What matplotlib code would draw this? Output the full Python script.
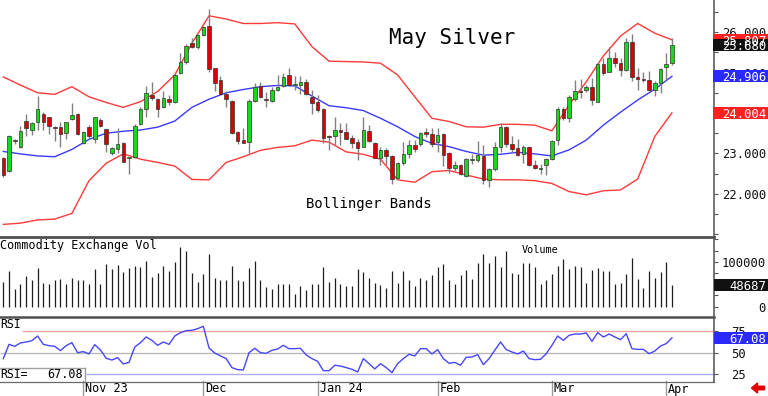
import matplotlib
matplotlib.use('Agg')
import matplotlib.pyplot as plt
import numpy as np
import pandas as pd
from matplotlib.patches import Rectangle, FancyArrow
from matplotlib.lines import Line2D

plt.rcParams['font.family'] = ['DejaVu Sans Mono', 'DejaVu Sans']

# ---------------- data ----------------
opens = [22.88, 22.58, 23.34, 23.17, 23.81, 23.58, 23.79, 23.98, 23.89, 23.66,
         23.65, 23.50, 23.84, 23.98, 23.27, 23.66, 23.37, 23.83, 23.60, 23.02,
         23.11, 23.25, 22.88, 22.92, 23.72, 24.09, 24.44, 24.35, 24.14, 24.35,
         24.26, 24.98, 25.25, 25.74, 25.64, 25.93, 26.15, 25.10, 24.81, 24.46,
         24.30, 23.52, 23.33, 23.28, 24.30, 24.67, 24.35, 24.30, 24.57, 24.67,
         24.94, 24.68, 24.69, 24.77, 24.40, 24.26, 24.09, 23.41, 23.42, 23.58,
         23.52, 23.39, 23.29, 23.17, 23.56, 23.27, 22.90, 23.09, 22.94, 22.39,
         22.77, 22.98, 23.21, 23.23, 23.53, 23.48, 23.29, 23.47, 23.00, 22.63,
         22.71, 22.45, 22.85, 22.84, 22.94, 22.35, 22.61, 23.15, 23.66, 23.23,
         23.13, 22.98, 23.17, 22.72, 22.62, 22.71, 22.86, 23.33, 24.11, 23.87,
         24.34, 24.55, 24.56, 24.65, 24.28, 25.21, 25.02, 25.37, 25.24, 25.07,
         25.76, 24.90, 24.83, 24.81, 24.58, 24.75, 25.13, 25.23]
highs = [22.92, 23.46, 23.37, 23.68, 23.98, 23.79, 24.42, 24.03, 23.91, 23.68,
         23.77, 23.79, 24.25, 23.99, 23.56, 23.70, 23.91, 23.87, 23.61, 23.17,
         23.62, 23.29, 22.92, 23.72, 24.14, 24.67, 24.77, 24.38, 24.54, 24.44,
         24.98, 25.49, 25.70, 25.84, 25.94, 26.15, 26.56, 25.12, 24.91, 24.55,
         24.32, 23.56, 23.62, 24.34, 24.73, 24.77, 24.52, 24.65, 24.94, 24.98,
         25.10, 24.91, 24.91, 24.83, 24.57, 24.44, 24.13, 23.45, 23.89, 23.75,
         23.75, 23.46, 23.35, 23.91, 23.70, 23.29, 23.17, 23.13, 22.96, 22.80,
         23.29, 23.33, 23.33, 23.54, 23.64, 23.62, 23.64, 23.50, 23.03, 22.82,
         22.74, 22.88, 22.98, 23.32, 23.21, 22.63, 23.29, 23.75, 23.68, 23.42,
         23.37, 23.21, 23.19, 22.84, 22.74, 22.88, 23.33, 24.14, 24.16, 24.44,
         24.81, 24.83, 24.69, 24.86, 25.24, 25.35, 25.64, 25.51, 25.35, 25.84,
         25.95, 25.10, 25.02, 25.04, 24.79, 25.10, 25.49, 25.84]
lows = [22.43, 22.55, 23.23, 23.13, 23.42, 23.46, 23.58, 23.58, 23.48, 23.32,
        23.17, 23.37, 23.83, 23.46, 23.23, 23.37, 23.25, 23.66, 23.04, 22.96,
        23.00, 22.78, 22.49, 22.90, 23.70, 23.91, 24.32, 23.91, 24.12, 24.20,
        24.24, 24.96, 25.20, 25.61, 25.57, 25.90, 25.02, 24.55, 24.44, 24.16,
        23.48, 23.23, 23.25, 23.00, 24.28, 24.36, 24.16, 24.28, 24.55, 24.65,
        24.67, 24.57, 24.47, 24.44, 23.98, 24.03, 23.27, 23.09, 23.21, 23.21,
        23.35, 23.13, 22.84, 23.15, 23.29, 22.88, 22.72, 22.72, 22.25, 22.36,
        22.72, 22.88, 23.04, 23.19, 23.40, 23.17, 23.04, 22.70, 22.53, 22.58,
        22.47, 22.43, 22.74, 22.80, 22.25, 22.17, 22.58, 23.04, 23.17, 23.04,
        22.94, 22.77, 22.68, 22.61, 22.49, 22.47, 22.84, 23.21, 23.83, 23.77,
        24.30, 24.36, 24.53, 24.20, 24.26, 24.94, 25.00, 25.14, 24.91, 25.04,
        24.80, 24.57, 24.77, 24.55, 24.42, 24.50, 24.81, 25.19]
closes = [22.47, 23.44, 23.32, 23.56, 23.62, 23.75, 24.11, 23.77, 23.68, 23.64,
          23.47, 23.77, 23.94, 23.47, 23.54, 23.42, 23.89, 23.68, 23.23, 23.13,
          23.23, 22.80, 22.88, 23.68, 24.09, 24.49, 24.38, 24.09, 24.38, 24.26,
          24.95, 25.25, 25.65, 25.64, 25.93, 26.12, 25.08, 24.73, 24.47, 24.34,
          23.51, 23.32, 23.27, 24.30, 24.65, 24.39, 24.32, 24.57, 24.65, 24.88,
          24.69, 24.69, 24.77, 24.47, 24.24, 24.07, 23.39, 23.40, 23.58, 23.53,
          23.37, 23.25, 23.13, 23.58, 23.31, 22.90, 23.09, 22.94, 22.36, 22.77,
          22.98, 23.21, 23.11, 23.50, 23.48, 23.23, 23.46, 22.96, 22.63, 22.71,
          22.49, 22.86, 22.86, 22.96, 22.35, 22.61, 23.15, 23.66, 23.23, 23.11,
          22.96, 23.17, 22.72, 22.63, 22.64, 22.86, 23.32, 24.09, 23.87, 24.40,
          24.55, 24.51, 24.65, 24.32, 25.21, 25.00, 25.37, 25.23, 25.07, 25.76,
          24.90, 24.83, 24.81, 24.58, 24.75, 25.08, 25.21, 25.68]

# Bollinger bands read every 3rd session (sessions 0, 3, 6, ... 117)
band_step = 3
upper_band = [24.89, 24.69, 24.50, 24.46, 24.65, 24.40, 24.26, 24.14, 24.28, 24.53,
              24.94, 25.72, 26.40, 26.32, 26.21, 26.21, 26.23, 26.20, 25.64, 25.28,
              25.27, 25.26, 25.23, 24.94, 24.40, 23.87, 23.79, 23.66, 23.65, 23.72,
              23.72, 23.70, 23.56, 24.20, 24.77, 25.41, 25.90, 26.21, 25.97, 25.807]
middle_band = [23.05, 22.99, 22.94, 22.92, 23.10, 23.35, 23.50, 23.55, 23.58, 23.65,
               23.80, 24.14, 24.34, 24.50, 24.58, 24.65, 24.68, 24.67, 24.42, 24.18,
               24.13, 24.06, 23.87, 23.66, 23.42, 23.25, 23.17, 23.05, 22.96, 22.98,
               23.03, 22.99, 22.94, 23.09, 23.33, 23.70, 24.02, 24.32, 24.59, 24.906]
lower_band = [21.25, 21.28, 21.36, 21.38, 21.52, 22.33, 22.76, 22.99, 22.86, 22.78,
              22.69, 22.36, 22.35, 22.78, 22.92, 23.08, 23.15, 23.19, 23.33, 23.28,
              23.04, 22.98, 22.86, 22.35, 22.29, 22.55, 22.58, 22.47, 22.37, 22.35,
              22.35, 22.33, 22.26, 22.06, 21.98, 22.08, 22.10, 22.37, 23.42, 24.004]

volume = [55400, 79200, 38300, 51000, 68100, 59100, 86700, 53200, 51000, 59100,
          62100, 49500, 64400, 58400, 59900, 49500, 83000, 49500, 94900, 83000,
          93400, 77700, 85900, 90400, 87400, 101600, 66600, 75500, 89700, 79200,
          99300, 133500, 124600, 74800, 53900, 72500, 116400, 62900, 59900, 59900,
          89700, 58400, 56900, 85200, 101600, 59900, 43500, 39100, 49500, 49500,
          49500, 27900, 46500, 36800, 49500, 50200, 88900, 55400, 63600, 49500,
          45800, 45800, 83700, 76300, 63600, 53200, 48000, 42000, 79200, 51700,
          80000, 59900, 46500, 62900, 58400, 70300, 88900, 94900, 59900, 51000,
          69600, 81500, 61400, 97100, 116400, 97100, 112000, 88900, 123900, 75500,
          72500, 96300, 97100, 87400, 51000, 58400, 72500, 89700, 105300, 83700,
          90400, 87400, 53200, 80700, 85200, 78500, 78500, 51000, 53200, 71800,
          108300, 61400, 42000, 79200, 62900, 77000, 100100, 48687]

rsi = [43.1, 59.6, 57.3, 61.2, 62.3, 63.8, 69.2, 59.6, 58.1, 57.3,
       52.3, 58.1, 61.5, 50.0, 51.2, 48.5, 59.2, 53.1, 43.5, 41.5,
       44.2, 36.9, 38.8, 56.5, 61.5, 68.1, 64.2, 58.5, 62.3, 59.6,
       69.2, 73.1, 75.4, 75.8, 77.7, 80.4, 55.4, 49.6, 46.2, 43.1,
       32.7, 30.4, 30.0, 50.0, 55.0, 50.0, 49.2, 52.7, 54.2, 58.5,
       54.6, 54.6, 55.0, 47.3, 43.1, 40.0, 29.2, 29.2, 35.4, 34.6,
       32.7, 30.8, 27.7, 43.1, 37.3, 31.2, 37.3, 32.7, 26.9, 37.3,
       43.1, 48.1, 46.2, 54.6, 54.6, 48.5, 53.5, 43.1, 37.7, 38.8,
       35.4, 44.6, 45.0, 47.7, 36.2, 43.1, 52.7, 62.3, 53.5, 50.8,
       48.5, 51.9, 43.1, 41.9, 42.3, 48.8, 58.5, 69.2, 64.2, 70.0,
       71.5, 71.5, 72.7, 63.1, 73.1, 68.1, 71.5, 68.1, 65.0, 71.9,
       54.6, 53.8, 53.8, 48.8, 51.9, 57.7, 60.4, 67.08]

start_date = '2023-10-12'
holidays = ['2023-11-23', '2023-12-25', '2024-01-01', '2024-01-15',
            '2024-02-19', '2024-03-29']
month_labels = ['Nov 23', 'Dec', 'Jan 24', 'Feb', 'Mar', 'Apr']

price_ticks = [26, 25, 24, 23, 22]
volume_ticks = [100000, 0]
rsi_levels = [75, 50, 25]

title = 'May Silver'
band_title = 'Bollinger Bands'
vol_title = 'Commodity Exchange Vol'
vol_label = 'Volume'

# ---------------- layout ----------------
W, H = 768, 396
fig = plt.figure(figsize=(W / 100, H / 100), dpi=100)
fig.patch.set_facecolor('white')
RIGHT = 714
SP = 5.715        # px per session
X0 = 3.3          # px of first session

n = len(closes)
x = np.arange(n)
dates = pd.bdate_range(start_date, periods=n, freq='C', holidays=holidays)
month_idx = [i for i in range(1, n) if dates[i].month != dates[i - 1].month]


def add_ax(top, bottom):
    ax = fig.add_axes([0, 1 - bottom / H, RIGHT / W, (bottom - top) / H])
    ax.set_xlim(-X0 / SP, (RIGHT - X0) / SP)
    for s in ax.spines.values():
        s.set_visible(False)
    ax.set_xticks([])
    ax.tick_params(axis='y', which='both', left=False, right=True,
                   labelleft=False, labelright=False, length=3,
                   color='#555555', direction='out', width=0.8)
    ax.patch.set_alpha(0)
    return ax


def px_to_data_x(px):
    return (px - X0) / SP


# price panel
axp = add_ax(0, 236)
axp.set_ylim(26 - (236 - 32) / 40.5, 26 + 32 / 40.5)
axp.set_yticks(np.arange(21, 27, 0.5))

bx = x[::band_step]
axp.plot(bx, upper_band, color='#ff3a3a', lw=1.0, zorder=2)
axp.plot(bx, lower_band, color='#ff3a3a', lw=1.0, zorder=2)
axp.plot(bx, middle_band, color='#3a3aff', lw=1.0, zorder=2)

o = np.array(opens); c = np.array(closes)
axp.vlines(x, lows, highs, color='#808080', lw=1.0, zorder=3)
up = c >= o
body_h = np.maximum(np.abs(c - o), 0.025)
body_b = np.minimum(o, c)
axp.bar(x[up], body_h[up], bottom=body_b[up], width=0.62, color='#19d719',
        edgecolor='#333333', linewidth=0.5, zorder=4)
axp.bar(x[~up], body_h[~up], bottom=body_b[~up], width=0.62, color='#d80000',
        edgecolor='#333333', linewidth=0.5, zorder=4)

fig.text(452 / W, 1 - 38 / H, title, ha='center', va='center', fontsize=15)
fig.text(369 / W, 1 - 204 / H, band_title, ha='center', va='center', fontsize=10)

# volume panel
axv = add_ax(238, 316)
axv.set_ylim(-(316 - 306.5) / 44.8 * 100000, (306.5 - 238) / 44.8 * 100000)
axv.set_yticks(np.arange(0, 150001, 25000))
axv.vlines(x, 0, volume, color='#1e1e1e', lw=0.9, zorder=3)
fig.text(0, 1 - 245 / H, vol_title, ha='left', va='center', fontsize=8.5)
fig.text(540 / W, 1 - 250 / H, vol_label, ha='center', va='center', fontsize=7.3)

# RSI panel
axr = add_ax(318, 381)
top_r = 75 + 13 / 0.866
axr.set_ylim(25 - 6.7 / 0.866, top_r)
axr.set_yticks(rsi_levels)
axr.hlines(75, px_to_data_x(22), px_to_data_x(RIGHT), color='#f4a4a4', lw=1, zorder=1)
axr.hlines(50, px_to_data_x(0), px_to_data_x(RIGHT), color='#b8b8b8', lw=1, zorder=1)
axr.hlines(25, px_to_data_x(86), px_to_data_x(RIGHT), color='#aaaaf2', lw=1, zorder=1)
axr.plot(x, rsi, color='#4646ff', lw=1.0, zorder=3)
fig.text(0, 1 - 325 / H, 'RSI', ha='left', va='center', fontsize=8.3)
# RSI value box
fig.add_artist(Line2D([0, 85 / W], [1 - 368 / H, 1 - 368 / H], color='#a0a0a0', lw=1))
fig.add_artist(Line2D([85 / W, 85 / W], [1 - 368 / H, 1 - 381 / H], color='#a0a0a0', lw=1))
fig.text(0, 1 - 375 / H, 'RSI=', ha='left', va='center', fontsize=8.3)
fig.text(83 / W, 1 - 375 / H, f'{rsi[-1]:.2f}', ha='right', va='center', fontsize=8.5)

# date axis
for i, lab in zip(month_idx, month_labels):
    xp = (X0 + SP * i) / W
    fig.add_artist(Line2D([xp, xp], [1 - 381 / H, 0], color='#9a9a9a', lw=1))
    fig.text(xp + 2 / W, 1 - 389 / H, lab, ha='left', va='center', fontsize=8.5)

# separators and right spine
fig.add_artist(Line2D([0, RIGHT / W], [1 - 237 / H] * 2, color='#505050', lw=2.0))
fig.add_artist(Line2D([0, RIGHT / W], [1 - 316.5 / H] * 2, color='#505050', lw=1.8))
fig.add_artist(Line2D([0, RIGHT / W], [1 - 381.5 / H] * 2, color='#6a6a6a', lw=0.9))
fig.add_artist(Line2D([RIGHT / W] * 2, [1, 1 - 381.5 / H], color='#505050', lw=1.1))


# right side labels
def ypx(ax, v):
    return ax.transData.transform((0, v))[1]


def plain_label(ax, v, txt, x_px=766, ha='right'):
    fig.text(x_px / W, ypx(ax, v) / H, txt, ha=ha, va='center_baseline',
             fontsize=8.8, color='#111111', zorder=5)


def box_label(ax, v, txt, fc, x_px=713):
    yc = ypx(ax, v)
    fig.add_artist(Rectangle((x_px / W, (yc - 6) / H), (W - x_px) / W, 12 / H,
                             transform=fig.transFigure, fc=fc, ec='none', zorder=6))
    fig.text(766 / W, yc / H, txt, ha='right', va='center_baseline', fontsize=8.8,
             color='white', zorder=7)


for v in price_ticks:
    plain_label(axp, v, f'{v:.3f}')
box_label(axp, upper_band[-1], f'{upper_band[-1]:.3f}', '#ff2020')
box_label(axp, closes[-1], f'{closes[-1]:.3f}', '#111111')
box_label(axp, middle_band[-1], f'{middle_band[-1]:.3f}', '#2a2aff')
box_label(axp, lower_band[-1], f'{lower_band[-1]:.3f}', '#ff2020')

for v in volume_ticks:
    plain_label(axv, v, f'{v}')
box_label(axv, volume[-1], f'{volume[-1]}', '#111111', x_px=714)

for v in rsi_levels:
    plain_label(axr, v, f'{v}', x_px=731, ha='left')
box_label(axr, rsi[-1], f'{rsi[-1]:.2f}', '#2a2aff', x_px=714)

# red arrow bottom right
fig.add_artist(FancyArrow(7.645, (H - 388) / 100, -0.13, 0, width=0.035,
                          head_width=0.10, head_length=0.06,
                          length_includes_head=True,
                          transform=fig.dpi_scale_trans, color='#e00000'))

fig.savefig('out.png', dpi=100, facecolor='white')
